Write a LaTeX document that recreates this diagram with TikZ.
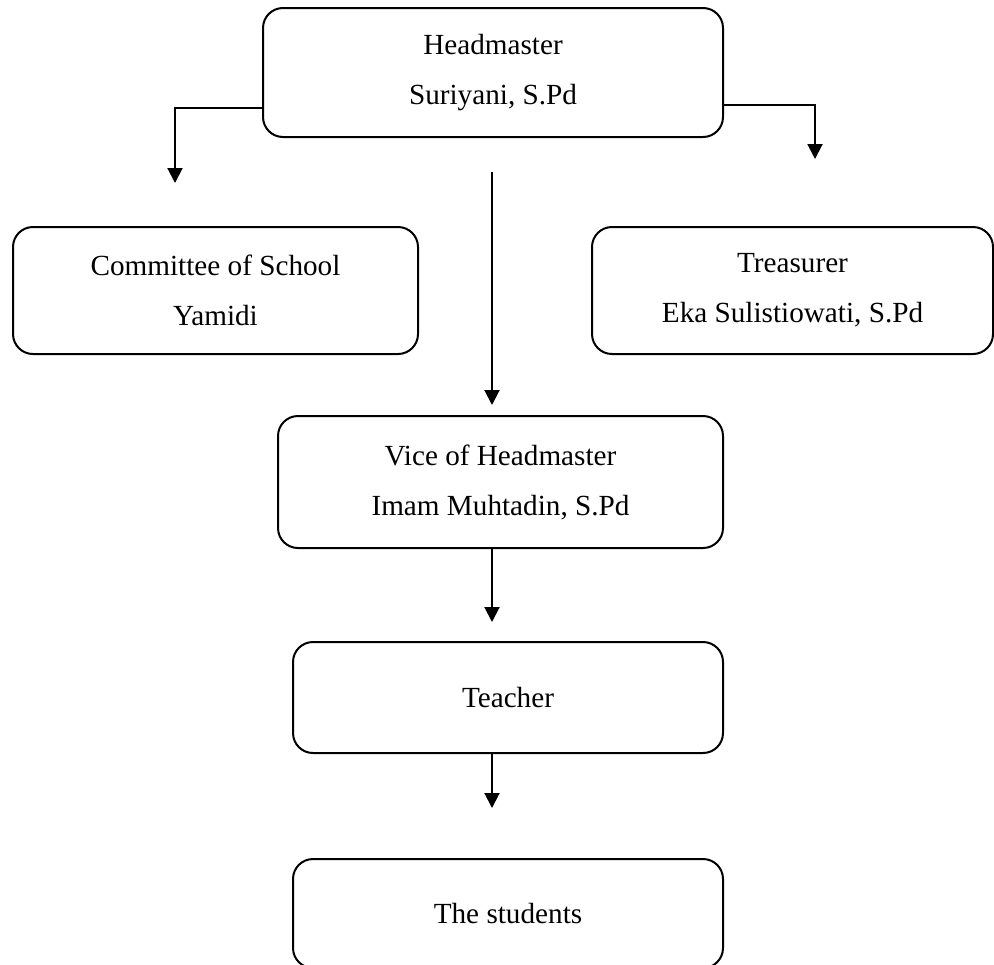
\documentclass[tikz,border=0pt]{standalone}
\usepackage{fontspec}
\setmainfont{Liberation Serif}
\usetikzlibrary{arrows.meta}
\begin{document}
\begin{tikzpicture}[x=0.5pt, y=-0.5pt,
    box/.style={draw, rectangle, rounded corners=10pt, line width=1pt, align=center, inner sep=0pt,
      font=\fontsize{14.6pt}{25pt}\selectfont},
    link/.style={line width=1pt},
    >={Triangle[width=7.5pt,length=7.5pt]}]
    \useasboundingbox (0,0) rectangle (994,964);

    % Main nodes
    \node (head) [box, minimum width=230pt, minimum height=64.5pt] at (493,72.5)
    {Headmaster \\ Suriyani, S.Pd};

    \node (committee) [box, minimum width=202.5pt, minimum height=63.5pt] at (215.5,290.5)
    {Committee of School \\ Yamidi};

    \node (treasurer) [box, minimum width=200.5pt, minimum height=63.5pt] at (792.5,290.5)
    {Treasurer \\ Eka Sulistiowati, S.Pd};

    \node (vice) [box, minimum width=222.5pt, minimum height=66pt] at (500.5,482)
    {Vice of Headmaster \\ Imam Muhtadin, S.Pd};

    \node (teacher) [box, minimum width=215pt, minimum height=55.5pt] at (508,697.5)
    {Teacher};

    \node (students) [box, minimum width=215pt, minimum height=54.5pt] at (508,913.5)
    {The students};

    % Free ends of the arrows
    \coordinate (ltip) at (175,183);
    \coordinate (rtip) at (815,159);
    \coordinate (ctop) at (492,172);
    \coordinate (ctip) at (492,405);
    \coordinate (ttip) at (492,622);
    \coordinate (stip) at (492,808);

    % Connecting arrows
    \draw[->, link] ([yshift=-17.75pt]head.west) -| (ltip);
    \draw[->, link] ([yshift=-16.25pt]head.east) -| (rtip);
    \draw[->, link] (ctop) -- (ctip);
    \draw[->, link] (vice.south -| ctop) -- (ttip);
    \draw[->, link] (teacher.south -| ctop) -- (stip);
\end{tikzpicture}
\end{document}
